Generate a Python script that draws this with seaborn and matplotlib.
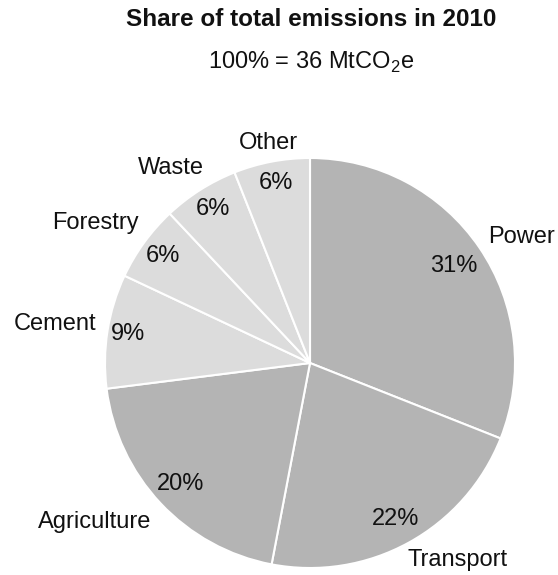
import matplotlib
matplotlib.use("Agg")
import matplotlib.pyplot as plt
import numpy as np
import seaborn as sns

# Emission shares by sector, 2010 (percent of 36 MtCO2e)
sectors = ["Power", "Transport", "Agriculture", "Cement", "Forestry", "Waste", "Other"]
shares = [31, 22, 20, 9, 6, 6, 6]
total_label = "100% = 36 MtCO$_\\mathregular{2}$e"
title = "Share of total emissions in 2010"

# Large sectors in mid grey, the small ones in light grey
dark, light = "#b4b4b4", "#dcdcdc"
colors = [dark, dark, dark, light, light, light, light]

# Label placement, in units of the pie radius
name_pos = [(1.034, 0.615), (0.722, -0.961), (-1.051, -0.776), (-1.244, 0.190),
            (-1.049, 0.683), (-0.678, 0.951), (-0.205, 1.073)]
pct_radius = [0.845, 0.867, 0.863, 0.90, 0.888, 0.887, 0.894]

sns.set_theme(style="white")
plt.rcParams["font.family"] = ["Liberation Sans", "DejaVu Sans"]
plt.rcParams["mathtext.fontset"] = "custom"
plt.rcParams["mathtext.rm"] = "Liberation Sans"

W, H, DPI = 558, 575, 100
fig = plt.figure(figsize=(W / DPI, H / DPI), dpi=DPI)
ax = fig.add_axes([0, 0, 1, 1])

cx, cy, R = 310, 363, 205
wedges, texts, autotexts = ax.pie(
    shares, labels=sectors, colors=colors, startangle=90, counterclock=False,
    autopct="%d%%", pctdistance=0.87, labeldistance=1.1,
    wedgeprops=dict(edgecolor="white", linewidth=1.5),
    textprops=dict(fontsize=17, color="#111111"),
)

for w, t, a, (lx, ly), pr in zip(wedges, texts, autotexts, name_pos, pct_radius):
    t.set_position((lx, ly))
    t.set_ha("center")
    t.set_va("center")
    mid = np.deg2rad((w.theta1 + w.theta2) / 2)
    a.set_position((pr * np.cos(mid), pr * np.sin(mid)))

ax.set_xlim(-cx / R, (W - cx) / R)
ax.set_ylim(-(H - cy) / R, cy / R)
ax.set_aspect("equal")
ax.axis("off")

fig.text(311 / W, 1 - 20 / H, title, ha="center", va="center",
         fontsize=17.5, fontweight="bold", color="#111111")
fig.text(311 / W, 1 - 62 / H, total_label, ha="center", va="center",
         fontsize=17, color="#111111")

fig.savefig("out.png", dpi=DPI, facecolor="white")
